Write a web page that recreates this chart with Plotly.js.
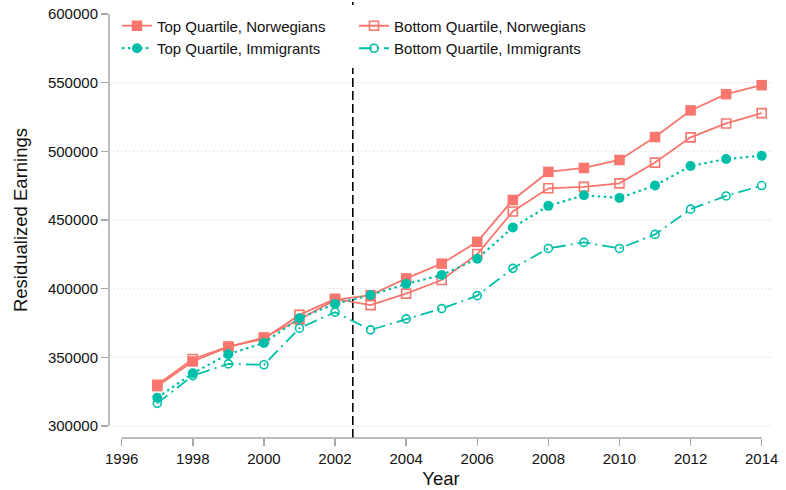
<!DOCTYPE html>
<html>
<head>
<meta charset="utf-8">
<script src="https://cdn.plot.ly/plotly-3.0.1.min.js"></script>
<style>html,body{margin:0;padding:0;background:#fff;}#chart{width:786px;height:490px;}</style>
</head>
<body>
<div id="chart"></div>
<script>
var years = [1997,1998,1999,2000,2001,2002,2003,2004,2005,2006,2007,2008,2009,2010,2011,2012,2013,2014];
var topNorwegians    = [329000,347000,357500,364500,377500,391800,395300,407500,418200,434100,464600,485000,487900,493700,510400,529800,541600,548200];
var bottomNorwegians = [330000,348800,357800,363500,380900,392600,388000,396400,406300,425200,456200,473100,474100,476700,491800,510200,520300,527800];
var topImmigrants    = [320600,338400,352300,360500,378500,388900,395300,403500,409900,421800,444500,460300,468000,466100,475100,489300,494400,496800];
var bottomImmigrants = [316500,336700,345200,344600,371200,382900,370000,378000,385500,394900,414800,429300,433700,429300,439500,457900,467500,475100];
var seriesNames = ["Top Quartile, Norwegians","Bottom Quartile, Norwegians","Top Quartile, Immigrants","Bottom Quartile, Immigrants"];
var xTicks = [1996,1998,2000,2002,2004,2006,2008,2010,2012,2014];
var yTicks = [300000,350000,400000,450000,500000,550000,600000];
var reformYear = 2002.5;

var salmon = "#F8766D", teal = "#00BFA8";
var lw = 1.8;

var traces = [
  {x: years, y: topNorwegians, name: seriesNames[0], type: "scatter", mode: "lines+markers", legend: "legend",
   line: {color: salmon, width: lw}, marker: {symbol: "square", size: 10.5, color: salmon}},
  {x: years, y: bottomNorwegians, name: seriesNames[1], type: "scatter", mode: "lines+markers", legend: "legend2",
   line: {color: salmon, width: lw}, marker: {symbol: "square-open", size: 9, color: salmon, line: {width: 1.6, color: salmon}}},
  {x: years, y: topImmigrants, name: seriesNames[2], type: "scatter", mode: "lines+markers", legend: "legend",
   line: {color: teal, width: lw + 0.4, dash: "2.5px,3.5px"}, marker: {symbol: "circle", size: 10, color: teal}},
  {x: years, y: bottomImmigrants, name: seriesNames[3], type: "scatter", mode: "lines+markers", legend: "legend2",
   line: {color: teal, width: lw, dash: "13px,5px,2px,5px"}, marker: {symbol: "circle-open", size: 8, color: teal, line: {width: 1.6, color: teal}}}
];

var axisGrey = "#a6a6a6";
var shapes = [];
// dotted gridlines (all y ticks except the top one)
yTicks.slice(0, -1).forEach(function (v) {
  shapes.push({type: "line", xref: "paper", yref: "y", x0: 0.006, x1: 1, y0: v, y1: v,
    line: {color: "#c8c8c8", width: 1, dash: "1px,3px"}, layer: "below"});
});
// y axis line spanning tick range
shapes.push({type: "line", xref: "paper", yref: "y", x0: 0, x1: 0, y0: yTicks[0], y1: yTicks[yTicks.length - 1],
  line: {color: axisGrey, width: 1.5}});
// x axis line spanning tick range
shapes.push({type: "line", xref: "x", yref: "paper", x0: xTicks[0], x1: xTicks[xTicks.length - 1], y0: 0, y1: 0,
  line: {color: axisGrey, width: 1.5}});
// reform dashed line
shapes.push({type: "line", xref: "x", yref: "paper", x0: reformYear, x1: reformYear, y0: 0, y1: 1,
  line: {color: "#000", width: 1.6, dash: "9px,4px"}, layer: "below"});

var legendFont = {size: 15, color: "#111"};
var layout = {
  width: 786, height: 490,
  margin: {l: 109, r: 13, t: 2, b: 52},
  paper_bgcolor: "#fff", plot_bgcolor: "#fff",
  font: {family: "Liberation Sans, Arial, sans-serif", size: 15, color: "#111"},
  showlegend: true,
  legend: {orientation: "v", x: 0.012, y: 0.983, xanchor: "left", yanchor: "top",
    bgcolor: "#fff", bordercolor: "#fff", borderwidth: 0, font: legendFont, traceorder: "normal"},
  legend2: {orientation: "v", x: 0.363, y: 0.992, xanchor: "left", yanchor: "top",
    bgcolor: "#fff", bordercolor: "#fff", borderwidth: 4, font: legendFont, traceorder: "normal"},
  xaxis: {range: [1995.643, 2014.318], tickvals: xTicks, ticks: "outside", ticklen: 7, tickwidth: 1.5,
    tickcolor: axisGrey, showgrid: false, zeroline: false, showline: false,
    tickfont: {size: 15, color: "#111"},
    title: {text: "Year", font: {size: 18.5, color: "#111"}, standoff: 6}},
  yaxis: {range: [291260, 608740], tickvals: yTicks, ticks: "outside", ticklen: 7, tickwidth: 1.5,
    tickcolor: axisGrey, showgrid: false, zeroline: false, showline: false,
    tickformat: "d", tickfont: {size: 15, color: "#111"},
    title: {text: "Residualized Earnings", font: {size: 18.5, color: "#111"}, standoff: 15}},
  shapes: shapes
};

Plotly.newPlot("chart", traces, layout, {displayModeBar: false, staticPlot: true});
</script>
</body>
</html>
